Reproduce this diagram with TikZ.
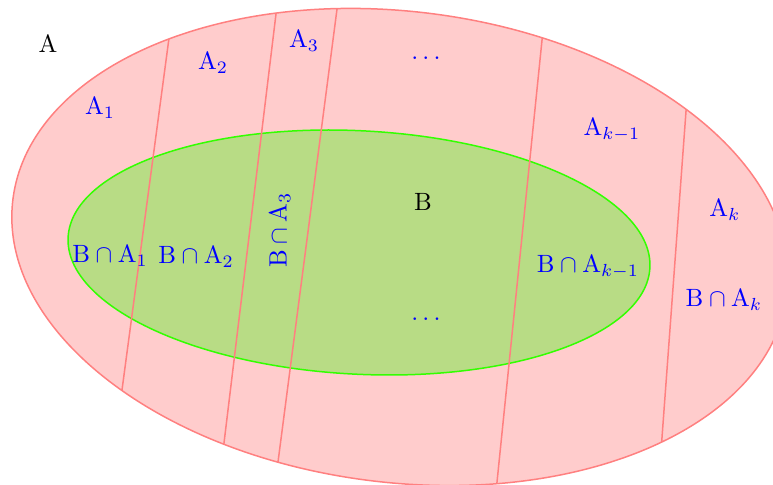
\documentclass[tikz,border=0pt]{standalone}
\usepackage{amsmath,amssymb}
\usetikzlibrary{positioning}
\definecolor{setpink}{RGB}{255,204,204}
\definecolor{setred}{RGB}{255,128,128}
\definecolor{setgreen}{RGB}{184,220,133}
\definecolor{setlime}{RGB}{51,255,0}

\begin{document}
\begin{tikzpicture}[x=0.4pt,y=-0.4pt,
    part/.style={text=blue, inner sep=1pt},
    cut/.style={draw=setred, line width=0.6pt}]
    \useasboundingbox (0,0) rectangle (773,485);
    % sample space A and event B
    \fill[setpink, rotate around={-7:(400,247)}] (400,247) ellipse [x radius=390, y radius=235.5];
    \filldraw[fill=setgreen, draw=setlime, line width=0.6pt, rotate around={-3:(359,252.5)}]
        (359,252.5) ellipse [x radius=291.3, y radius=121.7];
    % partition lines
    \begin{scope}
        \clip[rotate around={-7:(400,247)}] (400,247) ellipse [x radius=390, y radius=235.5];
        \draw[cut] (174.1,0) -- (109.3,485);
        \draw[cut] (277.7,0) -- (218.9,485);
        \draw[cut] (338.2,0) -- (275.0,485);
        \draw[cut] (546.1,0) -- (496.7,485);
        \draw[cut] (694.2,0) -- (658.5,485);
    \end{scope}
    \draw[setred, line width=0.6pt, rotate around={-7:(400,247)}] (400,247) ellipse [x radius=390, y radius=235.5];
    % labels
    \node (A) at (48,44) {$\mathrm{A}$};
    \node (B) at (423,202) {$\mathrm{B}$};
    \node[part] (a1) at (100,108) {$\mathrm{A}_1$};
    \node[part] (a2) at (213,63) {$\mathrm{A}_2$};
    \node[part] (a3) at (304,41) {$\mathrm{A}_3$};
    \node[part] (adots) at (428,58) {$\dots$};
    \node[part] (akm) at (612,130) {$\mathrm{A}_{k-1}$};
    \node[part] (ak) at (725,210) {$\mathrm{A}_k$};
    \node[part] (ba1) at (110,256) {$\mathrm{B}\cap\mathrm{A}_1$};
    \node[part] (ba2) at (196,257) {$\mathrm{B}\cap\mathrm{A}_2$};
    \node[part, rotate=90] (ba3) at (280,230) {$\mathrm{B}\cap\mathrm{A}_3$};
    \node[part] (bdots) at (428,319) {$\dots$};
    \node[part] (bakm) at (588,267) {$\mathrm{B}\cap\mathrm{A}_{k-1}$};
    \node[part] (bak) at (724,300) {$\mathrm{B}\cap\mathrm{A}_k$};
\end{tikzpicture}
\end{document}
